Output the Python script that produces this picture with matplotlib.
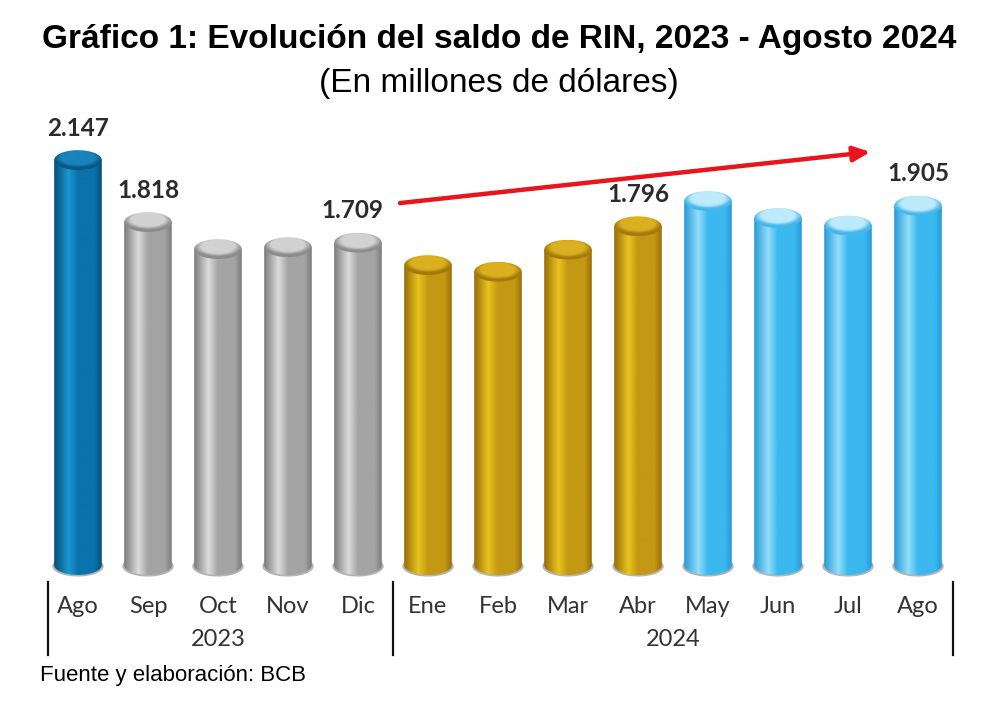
import numpy as np
import matplotlib
matplotlib.use("Agg")
import matplotlib.pyplot as plt
from matplotlib.colors import LinearSegmentedColormap
from matplotlib.patches import Ellipse, PathPatch
from matplotlib.path import Path

# datos (millones de dólares)
MESES = ["Ago", "Sep", "Oct", "Nov", "Dic", "Ene", "Feb", "Mar", "Abr",
         "May", "Jun", "Jul", "Ago"]
SALDO = [2147, 1818, 1675, 1685, 1709, 1590, 1555, 1672, 1796,
         1930, 1840, 1800, 1905]
TRAMO = ["ini", "gris", "gris", "gris", "gris", "oro", "oro", "oro", "oro",
         "cel", "cel", "cel", "cel"]
ETIQUETADOS = [0, 1, 4, 8, 12]
ANIOS = [("2023", 0, 4), ("2024", 5, 12)]

# paleta : (borde oscuro, brillo, medio, tapa centro, tapa borde)
PAL = {
    "ini": ("#064d78", "#1b98d0", "#0b72ab", "#1983bc", "#0a5788"),
    "gris": ("#7a7a7a", "#dcdcdc", "#a4a4a4", "#d2d2d2", "#8c8c8c"),
    "oro": ("#976d08", "#e8c41f", "#c49812", "#dbb020", "#a37a0d"),
    "cel": ("#2799d6", "#93defa", "#3bb8ef", "#bdebfc", "#47b6ea"),
}
INK = "#2b2b2b"

W = 0.68      # ancho del cilindro (unidades de categoría)
EH = 105      # alto de la elipse (unidades de datos)

fig = plt.figure(figsize=(10.04, 7.1), dpi=100)
ax = fig.add_axes([0.0428, 0.1856, 0.9064, 0.6296])
ax.set_xlim(-0.5, 12.5)
ax.set_ylim(-70, 2300)
ax.axis("off")


def cilindro(x, v, tramo):
    dark, hi, mid, top_c, top_e = PAL[tramo]
    x0, x1 = x - W / 2, x + W / 2
    # sombra en la base
    ax.add_patch(Ellipse((x, -6), W * 1.08, EH * 1.05, color="#b3b3b3",
                         zorder=1, lw=0))
    # cuerpo : rectángulo + medio óvalo inferior
    th = np.linspace(np.pi, 2 * np.pi, 60)
    verts = [(x0, v)] + [(x + W / 2 * np.cos(t), EH / 2 * np.sin(t))
                         for t in th] + [(x1, v), (x0, v)]
    codes = [Path.MOVETO] + [Path.LINETO] * (len(verts) - 2) + [Path.CLOSEPOLY]
    body = PathPatch(Path(verts, codes), fc="none", lw=0)
    ax.add_patch(body)
    cmap = LinearSegmentedColormap.from_list(
        tramo, [(0, dark), (0.3, hi), (0.5, mid), (0.85, mid), (1, dark)])
    g = np.linspace(0, 1, 256)[None, :]
    im = ax.imshow(g, cmap=cmap, extent=[x0, x1, -EH / 2, v], aspect="auto",
                   zorder=2, interpolation="bilinear")
    im.set_clip_path(body)
    # tapa
    tapa = Ellipse((x, v), W, EH, fc="none", lw=0)
    ax.add_patch(tapa)
    yy, xx = np.mgrid[-1:1:100j, -1:1:100j]
    r = np.clip(np.sqrt(xx ** 2 + (yy + 0.25) ** 2), 0, 1)
    cmap_t = LinearSegmentedColormap.from_list(
        tramo + "t", [(0, top_c), (0.7, top_c), (1, top_e)])
    imt = ax.imshow(r, cmap=cmap_t, vmin=0, vmax=1,
                    extent=[x0, x1, v - EH / 2, v + EH / 2], aspect="auto",
                    zorder=3, interpolation="bilinear")
    imt.set_clip_path(tapa)


for i, (v, t) in enumerate(zip(SALDO, TRAMO)):
    cilindro(i, v, t)

for i in ETIQUETADOS:
    lab = f"{SALDO[i]:,}".replace(",", ".")
    dx = -4 if i == 4 else 0
    ax.annotate(lab, (i, SALDO[i]), xytext=(dx, 23), textcoords="offset points",
                ha="center", va="center", fontsize=17.5, fontweight="bold",
                family="Lato", color=INK, annotation_clip=False)

# flecha de tendencia Dic -> Ago 2024
i0, i1 = 4, 12
ax.annotate("", xy=(i1 - 0.68, SALDO[i1] + 285), xytext=(i0 + 0.6, SALDO[i0] + 210),
            arrowprops=dict(arrowstyle="-|>,head_length=1.0,head_width=0.45",
                            color="#e8161c", lw=3.2, shrinkA=0, shrinkB=0),
            annotation_clip=False)

# eje de categorías
tr = ax.get_xaxis_transform()
for i, m in enumerate(MESES):
    ax.text(i, -0.064, m, transform=tr, ha="center", va="center",
            fontsize=17, family="Lato", color="#333333")
for anio, a, b in ANIOS:
    ax.text((a + b) / 2, -0.136, anio, transform=tr, ha="center",
            va="center", fontsize=17, family="Lato", color="#333333")
for xs in (-0.43, 4.5, 12.5):
    ax.plot([xs, xs], [-0.009, -0.172], transform=tr, color="#111111",
            lw=1.6, clip_on=False)

fig.text(0.497, 0.9437, "Gráfico 1: Evolución del saldo de RIN, 2023 - Agosto 2024",
         ha="center", va="center", fontsize=24, fontweight="bold",
         family="Liberation Sans", color="black")
fig.text(0.497, 0.883, "(En millones de dólares)", ha="center", va="center",
         fontsize=24, family="Liberation Sans", color="black")
fig.text(0.04, 0.049, "Fuente y elaboración: BCB", ha="left", va="center",
         fontsize=16, family="Liberation Sans", color="black")

fig.savefig("out.png", dpi=100)
